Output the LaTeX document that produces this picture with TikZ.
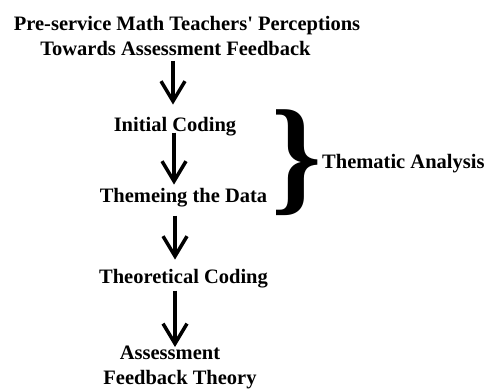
\documentclass[tikz,border=0pt]{standalone}
\usepackage{fontspec}
\setmainfont{Liberation Serif}[Ligatures=TeXOff]
\usetikzlibrary{arrows.meta}
\begin{document}
\begin{tikzpicture}[x=1pt,y=-1pt,
  lbl/.style={font=\fontsize{20.5}{25}\selectfont\bfseries, inner sep=0pt, align=center},
  flow/.style={line width=3.5pt,
    -{Straight Barb[length=20pt,width=24pt,line width=3.5pt]}},
]
\useasboundingbox (0,0) rectangle (485,389);

% stages of the analysis
\node[lbl, anchor=north] (title) at (187,16)
  {Pre-service Math Teachers' Perceptions\\Towards Assessment Feedback\hspace*{23pt}};
\node[lbl, anchor=base] (init)  at (175,131)   {Initial Coding};
\node[lbl, anchor=base] (theme) at (183.5,202) {Themeing the Data};
\node[lbl, anchor=base] (theo)  at (183.5,283) {Theoretical Coding};
\node[lbl, anchor=north] (afb)  at (180,346)
  {Assessment\hspace*{20pt}\\Feedback Theory};

% brace grouping the first two stages
\node[inner sep=0pt] (brace) at (297,163)
  {\fontsize{128}{128}\selectfont\bfseries\}};
\node[lbl, anchor=base west] (thematic) at (322,168) {Thematic Analysis};

% flow between stages
\draw[flow] ([xshift=-14pt,yshift=-5pt]title.south) -- ([xshift=-2pt,yshift=12pt]init.north);
\draw[flow] ([xshift=-1pt,yshift=3pt]init.south) -- ([xshift=-9.5pt,yshift=3pt]theme.north);
\draw[flow] ([xshift=-8.5pt,yshift=-9pt]theme.south) -- ([xshift=-8.5pt,yshift=9pt]theo.north);
\draw[flow] ([xshift=-8.5pt,yshift=-3pt]theo.south) -- ([xshift=-5pt,yshift=-1pt]afb.north);
\end{tikzpicture}
\end{document}
